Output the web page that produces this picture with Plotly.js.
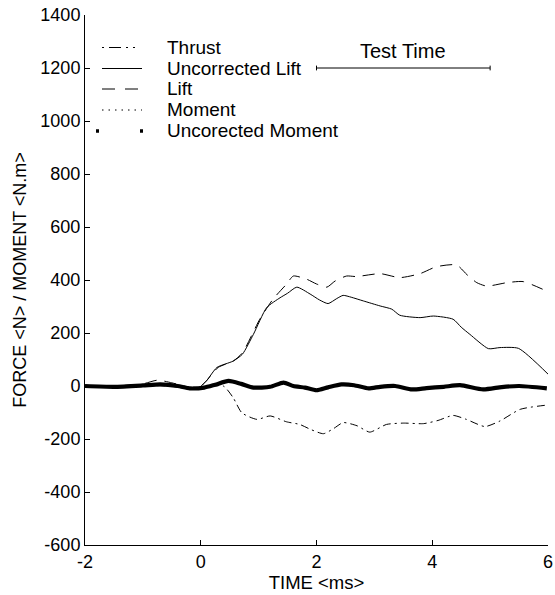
<!DOCTYPE html>
<html>
<head>
<meta charset="utf-8">
<script src="https://cdn.plot.ly/plotly-3.0.1.min.js"></script>
<style>
html,body{margin:0;padding:0;background:#fff;}
#chart{width:555px;height:595px;}
</style>
</head>
<body>
<div id="chart"></div>
<script>
// ---- data ----
var thrustT = [-2, -1, -0.5, 0, 0.39, 0.56, 0.71, 0.97, 1.2, 1.48, 1.71, 1.9, 2.12, 2.3, 2.46, 2.7, 2.92, 3.21, 3.5, 3.85, 4.1, 4.36, 4.59, 4.91, 5.17, 5.52, 5.98];
var thrustV = [0, 2, 0, -5, 0, -44, -101, -126, -113, -135, -145, -164, -180, -160, -138, -150, -174, -145, -140, -142, -130, -111, -126, -153, -132, -88, -72];

var uLiftT = [-2, -1.5, -1, -0.6, -0.3, -0.07, 0.1, 0.28, 0.56, 0.72, 0.91, 1.14, 1.37, 1.5, 1.66, 1.89, 2.05, 2.2, 2.35, 2.46, 2.6, 2.81, 3.1, 3.3, 3.44, 3.79, 4.02, 4.36, 4.5, 4.65, 4.97, 5.17, 5.49, 6.0];
var uLiftV = [0, 0, 3, 2, -8, -12, 20, 70, 94, 120, 195, 296, 333, 350, 373, 347, 325, 311, 330, 342, 335, 321, 302, 290, 267, 258, 264, 252, 222, 195, 141, 145, 142, 45];

var liftT = [-2, -1.5, -1, -0.75, -0.5, -0.2, -0.05, 0.1, 0.3, 0.56, 0.72, 1.02, 1.25, 1.48, 1.6, 1.83, 2.0, 2.18, 2.32, 2.52, 2.69, 3.1, 3.44, 3.79, 4.07, 4.42, 4.6, 4.77, 4.94, 5.29, 5.57, 6.0];
var liftV = [0, 0, 8, 22, 12, -5, -10, 20, 70, 94, 125, 252, 328, 384, 415, 403, 385, 373, 396, 415, 413, 424, 409, 424, 450, 457, 420, 390, 377, 390, 394, 356];

var momentT = [-2, -1.5, -1, -0.7, -0.4, -0.19, 0.06, 0.25, 0.48, 0.7, 0.91, 1.2, 1.43, 1.6, 1.8, 2.0, 2.2, 2.43, 2.65, 2.9, 3.1, 3.36, 3.65, 3.9, 4.2, 4.48, 4.88, 5.2, 5.5, 5.98];
var momentV = [0, -2, 2, 5, 0, -8, -5, 4, 16, 7, -5, -3, 11, 0, -5, -14, -4, 5, 2, -8, -3, 0, -11, -7, -3, 2, -11, -4, 0, -8];

var uMomentT = [-2, -1.5, -1, -0.7, -0.4, -0.19, 0.06, 0.25, 0.48, 0.7, 0.91, 1.2, 1.43, 1.6, 1.8, 2.0, 2.2, 2.43, 2.65, 2.9, 3.1, 3.36, 3.65, 3.9, 4.2, 4.48, 4.88, 5.2, 5.5, 5.98];
var uMomentV = [0, -3, 2, 6, 0, -9, -6, 5, 19, 8, -6, -3, 13, 0, -6, -16, -5, 6, 3, -9, -3, 0, -13, -8, -3, 3, -13, -4, 0, -9];

var seriesNames = ["Thrust", "Uncorrected Lift", "Lift", "Moment", "Uncorected Moment"];
var testTimeRange = [2, 5];
var testTimeLevel = 1200;
var xTicks = [-2, 0, 2, 4, 6];
var yTicks = [-600, -400, -200, 0, 200, 400, 600, 800, 1000, 1200, 1400];

// ---- styles ----
var FONT = "Arial, 'Liberation Sans', Helvetica, sans-serif";
var plotDash = ["8px,4px,2px,4px", "solid", "12px,8px", "1.5px,4px", "solid"];
var plotWidth = [1, 1, 1, 1, 4.2];
var legendDash = ["2px,5px,12px,5px,2px,5px,2px,20px", "solid", "13px,10px", "1.5px,5px", "3px,41px"];
var legendWidth = [1, 1, 1, 1, 3.5];

var xs = [thrustT, uLiftT, liftT, momentT, uMomentT];
var ys = [thrustV, uLiftV, liftV, momentV, uMomentV];

var traces = [];
for (var i = 0; i < seriesNames.length; i++) {
  traces.push({
    x: xs[i], y: ys[i], name: seriesNames[i], type: "scatter", mode: "lines",
    line: {color: "#000", width: plotWidth[i], dash: plotDash[i], shape: "spline", smoothing: 0.6},
    showlegend: false, hoverinfo: "x+y+name"
  });
}

// custom legend (row spacing of the reference is tighter than Plotly's legend)
var legendRowsPx = [47.5, 68.5, 89, 110, 131];
var plotTop = 15, plotH = 530, plotL = 85, plotW = 463;
function py(p) { return (plotTop + plotH - p) / plotH; }
function px(p) { return (p - plotL) / plotW; }

var shapes = [];
var annotations = [];
for (var j = 0; j < seriesNames.length; j++) {
  var yy = py(legendRowsPx[j]);
  var x0 = j === 4 ? px(96) : px(102);
  var x1 = j === 4 ? px(144) : px(142);
  shapes.push({type: "line", xref: "paper", yref: "paper", x0: x0, x1: x1, y0: yy, y1: yy,
    line: {color: "#000", width: legendWidth[j], dash: legendDash[j]}});
  annotations.push({xref: "paper", yref: "paper", x: px(165), y: yy, xanchor: "left", yanchor: "middle",
    text: seriesNames[j], showarrow: false, font: {family: FONT, size: 19, color: "#000"}});
}

// Test Time marker
shapes.push({type: "line", xref: "x", yref: "y", x0: testTimeRange[0], x1: testTimeRange[1],
  y0: testTimeLevel, y1: testTimeLevel, line: {color: "#000", width: 1}});
shapes.push({type: "line", xref: "x", yref: "y", x0: testTimeRange[0], x1: testTimeRange[0],
  y0: testTimeLevel - 9, y1: testTimeLevel + 9, line: {color: "#000", width: 1}});
shapes.push({type: "line", xref: "x", yref: "y", x0: testTimeRange[1], x1: testTimeRange[1],
  y0: testTimeLevel - 9, y1: testTimeLevel + 9, line: {color: "#000", width: 1}});
annotations.push({xref: "x", yref: "y", x: (testTimeRange[0] + testTimeRange[1]) / 2, y: testTimeLevel,
  yshift: 17, xanchor: "center", yanchor: "middle", text: "Test Time", showarrow: false,
  font: {family: FONT, size: 20, color: "#000"}});

var layout = {
  width: 555, height: 595,
  margin: {l: 85, r: 7, t: 15, b: 50, pad: 0},
  paper_bgcolor: "#fff", plot_bgcolor: "#fff",
  font: {family: FONT, size: 18, color: "#000"},
  showlegend: false,
  xaxis: {
    range: [-2, 6], tickvals: xTicks, ticktext: xTicks.map(String),
    ticks: "inside", ticklen: 5, tickwidth: 1, tickcolor: "#000",
    showline: true, linecolor: "#000", linewidth: 1, mirror: false,
    showgrid: false, zeroline: false,
    tickfont: {family: FONT, size: 18, color: "#000"},
    title: {text: "TIME &lt;ms&gt;", font: {family: FONT, size: 18.5, color: "#000"}, standoff: 2}
  },
  yaxis: {
    range: [-600, 1400], tickvals: yTicks, ticktext: yTicks.map(String),
    ticks: "inside", ticklen: 5, tickwidth: 1, tickcolor: "#000",
    showline: true, linecolor: "#000", linewidth: 1, mirror: false,
    showgrid: false, zeroline: false,
    tickfont: {family: FONT, size: 18, color: "#000"},
    title: {text: "FORCE &lt;N&gt; / MOMENT &lt;N.m&gt;", font: {family: FONT, size: 18, color: "#000"}, standoff: 9}
  },
  shapes: shapes,
  annotations: annotations
};

Plotly.newPlot("chart", traces, layout, {displayModeBar: false, staticPlot: true});
</script>
</body>
</html>
